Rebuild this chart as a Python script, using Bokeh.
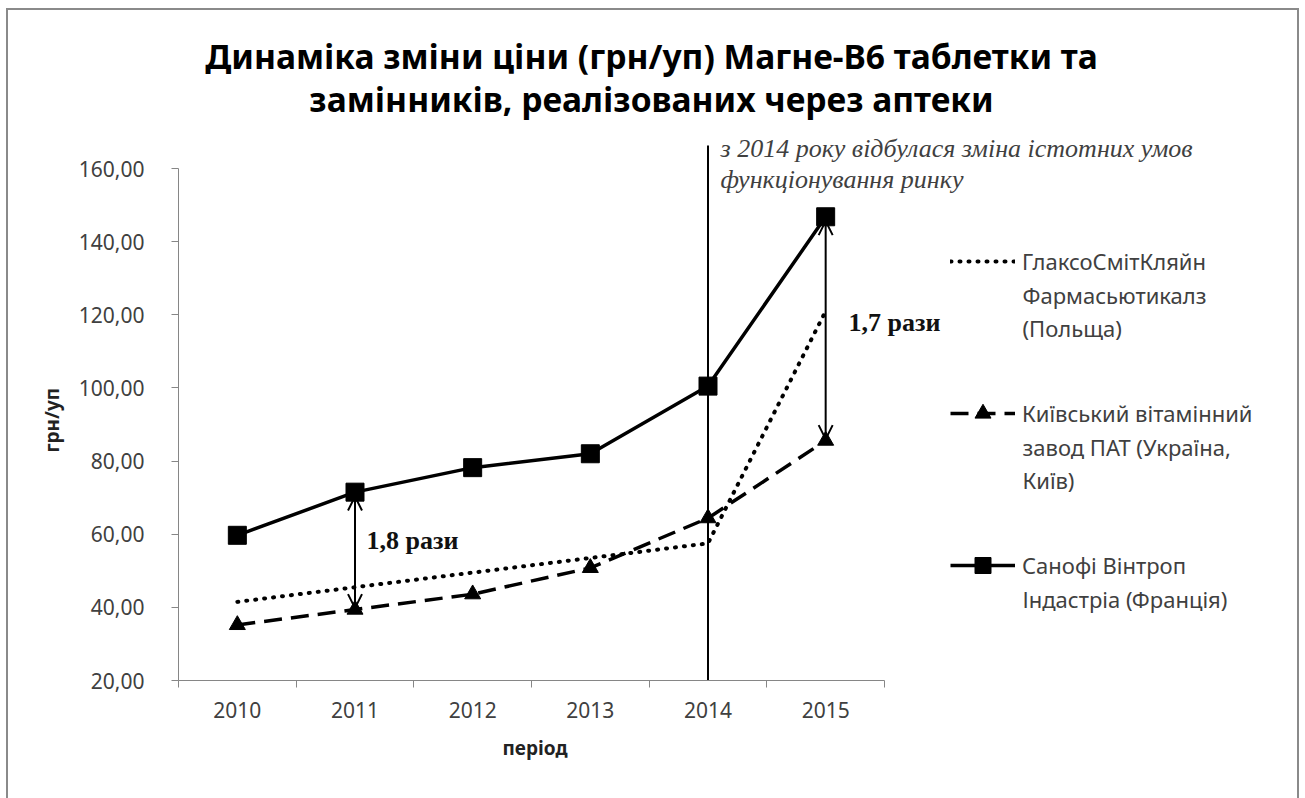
from bokeh.plotting import figure
from bokeh.layouts import column
from bokeh.models import (Range1d, FixedTicker, Arrow, OpenHead, Label, Legend, LegendItem, Title)
from bokeh.embed import file_html
from bokeh.resources import INLINE

years = [2010, 2011, 2012, 2013, 2014, 2015]
glaxo = [41.5, 45.5, 49.5, 53.5, 57.5, 121.0]
kyiv = [35.2, 39.4, 43.6, 50.8, 64.4, 85.6]
sanofi = [59.7, 71.5, 78.2, 82.0, 100.5, 146.8]
y_ticks = [20, 40, 60, 80, 100, 120, 140, 160]
names = ["ГлаксоСмітКляйн", "Київський вітамінний", "Санофі Вінтроп"]
names_more = [["Фармасьютикалз", "(Польща)"], ["завод ПАТ (Україна,", "Київ)"], ["Індастріа  (Франція)"]]
title_lines = ["Динаміка зміни ціни (грн/уп) Магне-В6 таблетки та",
               "замінників, реалізованих через аптеки"]
note_lines = ["з 2014 року відбулася зміна істотних умов", "функціонування ринку"]
ratio_labels = ["1,8 рази", "1,7 рази"]
change_year = 2014
x_title = "період"
y_title = "грн/уп"

# geometry (page pixels); figure placed at page (8, 10)
PX, PY = 8, 10
W, H = 1289, 788
FL, FB = 178, 680            # page px of plot origin (2009.5, 20)
FR, FT = PX + W, PY           # frame extends to right/top figure edge
PXX = 706 / 6.0
PXY = (FB - 168) / 140.0
X0, Y0 = 2009.5, 20.0
X1 = X0 + (FR - FL) / PXX
Y1 = Y0 + (FB - FT) / PXY

def dx(px):
    return X0 + (px - FL) / PXX

def dy(py):
    return Y0 + (FB - py) / PXY

AX = "#868686"
TXT = "#404040"
SANS = "Noto Sans"
SERIF = "Liberation Serif"

p = figure(width=W, height=H,
           min_border_left=FL - PX, min_border_right=0,
           min_border_top=0, min_border_bottom=PY + H - FB,
           x_range=Range1d(X0, X1), y_range=Range1d(Y0, Y1),
           output_backend="svg", toolbar_location=None, tools="")
p.outline_line_color = None
p.xgrid.grid_line_color = None
p.ygrid.grid_line_color = None
p.background_fill_color = "white"
p.border_fill_color = "white"

# x axis
p.xaxis.bounds = (years[0] - 0.5, years[-1] + 0.5)
p.xaxis.ticker = FixedTicker(ticks=years, minor_ticks=[y - 0.5 for y in years] + [years[-1] + 0.5])
p.xaxis.major_label_overrides = {y: str(y) for y in years}
p.xaxis.major_tick_out = 0
p.xaxis.major_tick_in = 0
p.xaxis.minor_tick_out = 7
p.xaxis.minor_tick_in = 0
p.xaxis.minor_tick_line_color = AX
p.xaxis.axis_line_color = AX
p.xaxis.major_label_standoff = 14
p.xaxis.major_label_text_font = SANS
p.xaxis.major_label_text_font_size = "21px"
p.xaxis.major_label_text_color = TXT

# y axis
p.yaxis.bounds = (y_ticks[0], y_ticks[-1])
p.yaxis.ticker = FixedTicker(ticks=y_ticks, minor_ticks=[])
p.yaxis.major_label_overrides = {t: f"{t:.2f}".replace(".", ",") for t in y_ticks}
p.yaxis.major_tick_out = 7
p.yaxis.major_tick_in = 0
p.yaxis.major_tick_line_color = AX
p.yaxis.minor_tick_line_color = None
p.yaxis.axis_line_color = AX
p.yaxis.major_label_standoff = 27
p.yaxis.major_label_text_font = SANS
p.yaxis.major_label_text_font_size = "21px"
p.yaxis.major_label_text_color = TXT

# axis titles, placed under / beside the drawn axes
p.add_layout(Title(text=x_title, align="left", offset=502 - FL,
                   text_font=SANS, text_font_style="bold", text_font_size="19px",
                   text_color="#222222", standoff=24), "below")
p.add_layout(Title(text=y_title, align="left", offset=FB - 452,
                   text_font=SANS, text_font_style="bold", text_font_size="19px",
                   text_color="#222222", standoff=22), "left")

# vertical line at 2014 (from the axis up past the top of the plot)
p.segment(x0=[change_year], y0=[Y0], x1=[change_year], y1=[dy(145)], line_color="black", line_width=2)

# series
lg = p.line(years, glaxo, line_color="black", line_width=4, line_dash="1 8", line_cap="round")
lk = p.line(years, kyiv, line_color="black", line_width=3.5, line_dash="18 9")
mk = p.scatter(years, kyiv, marker="triangle", size=16, color="black")
ls = p.line(years, sanofi, line_color="black", line_width=3.5)
ms = p.scatter(years, sanofi, marker="square", size=18, color="black")

# double arrows
for i in (1, 5):
    p.add_layout(Arrow(start=OpenHead(size=14, line_width=2), end=OpenHead(size=14, line_width=2),
                       x_start=years[i], y_start=sanofi[i] - 1.2, x_end=years[i], y_end=kyiv[i] + 0.4,
                       line_width=2, line_color="black"))

p.add_layout(Label(x=dx(366), y=dy(540), text=ratio_labels[0], text_font=SERIF,
                   text_font_style="bold", text_font_size="26px", text_baseline="middle",
                   text_color="#111111"))
p.add_layout(Label(x=dx(848), y=dy(322), text=ratio_labels[1], text_font=SERIF,
                   text_font_style="bold", text_font_size="26px", text_baseline="middle",
                   text_color="#111111"))

# note
for j, t in enumerate(note_lines):
    p.add_layout(Label(x=dx(720), y=dy(148 + 31 * j), text=t, text_font=SERIF,
                       text_font_style="italic", text_font_size="26px", text_baseline="middle",
                       text_color="#404040"))

# title
for j, t in enumerate(title_lines):
    p.add_layout(Label(x=dx(651), y=dy(55 + 43 * j), text=t, text_font=SANS,
                       text_font_style="bold", text_font_size="33.6px", text_baseline="middle",
                       text_align="center", text_color="black"))

# legend
GH = 40
SP = 152 - GH
leg_top = 261 - GH / 2
leg_bottom = leg_top + 3 * GH + 2 * SP
legend = Legend(items=[LegendItem(label=names[0], renderers=[lg]),
                       LegendItem(label=names[1], renderers=[lk, mk]),
                       LegendItem(label=names[2], renderers=[ls, ms])],
                location=(950 - FL, FB - leg_bottom), orientation="vertical",
                glyph_width=65, glyph_height=GH, label_height=GH, spacing=SP,
                padding=0, margin=0, label_standoff=7,
                label_text_font=SANS, label_text_font_size="22px", label_text_color=TXT,
                border_line_color=None, background_fill_alpha=0)
p.add_layout(legend)

leg_tops = [261, 413, 565]
for j, more in enumerate(names_more):
    for k, t in enumerate(more):
        p.add_layout(Label(x=dx(1022), y=dy(leg_tops[j] + 33 * (k + 1)), text=t, text_font=SANS,
                           text_font_size="22px", text_baseline="middle", text_color=TXT))

page = column(p, styles={"border": "2px solid #8a8a8a", "margin": "8px 0 0 6px"})
open("out.html", "w").write(file_html(page, INLINE))
